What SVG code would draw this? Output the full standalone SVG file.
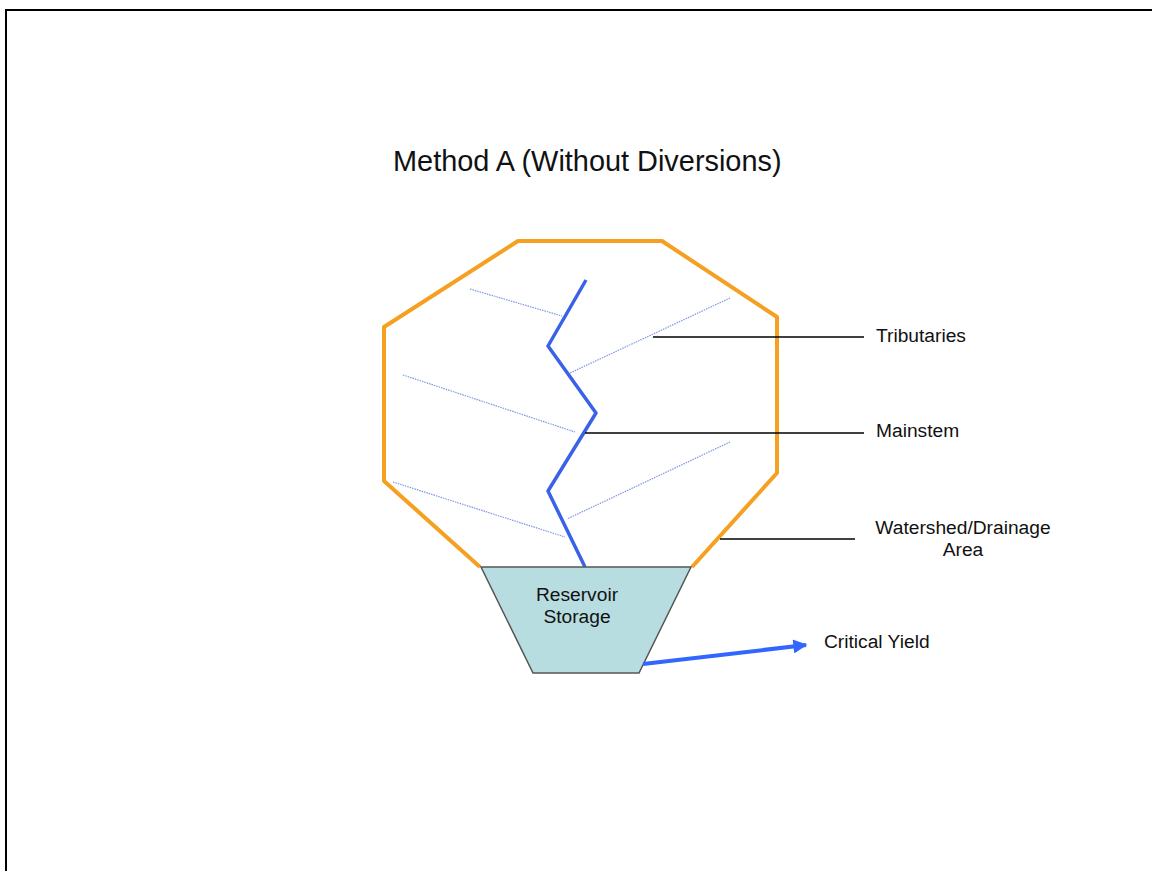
<svg xmlns="http://www.w3.org/2000/svg" width="1152" height="871" viewBox="0 0 1152 871">
<style>
text{font-family:"Liberation Sans",Arial,sans-serif;fill:#111}
.lbl{font-size:19.2px}
.leader{stroke:#000;stroke-width:1.3;fill:none}
.trib{stroke:#7f95e0;stroke-width:1.2;stroke-dasharray:1.5 1;fill:none}
</style>
<defs>
<marker id="ah" viewBox="0 0 10 10" refX="9" refY="5" markerWidth="4" markerHeight="3.5" orient="auto" markerUnits="strokeWidth">
<path d="M0,0 L10,5 L0,10 z" fill="#3366ff"/>
</marker>
</defs>
<rect x="0" y="0" width="1152" height="871" fill="#fff"/>
<path d="M6,871 V10 H1152" stroke="#000" stroke-width="2" fill="none"/>
<text id="title" x="393" y="171" style="font-size:28.9px">Method A (Without Diversions)</text>
<g id="watershed">
<polyline points="480,567 384,481 384,327 518,241 662,241 777,317 777,473 692,567" fill="none" stroke="#f5a020" stroke-width="4" stroke-linejoin="round"/>
</g>
<g id="tributaries">
<line class="trib" x1="470" y1="289" x2="562" y2="316"/>
<line class="trib" x1="730" y1="298" x2="570" y2="373"/>
<line class="trib" x1="403" y1="375" x2="575" y2="432"/>
<line class="trib" x1="730" y1="442" x2="567" y2="519"/>
<line class="trib" x1="393" y1="482" x2="565" y2="537"/>
</g>
<g id="mainstem">
<polyline points="586,280 548,346 596,413 548,491 585,567" fill="none" stroke="#3a62e8" stroke-width="3.5" stroke-linejoin="round"/>
</g>
<g id="reservoir">
<polygon points="481,567 691,567 639,673 533,673" fill="#b8dde0" stroke="#555" stroke-width="1.5"/>
<text class="lbl" x="577" y="601" text-anchor="middle">Reservoir</text>
<text class="lbl" x="577" y="623" text-anchor="middle">Storage</text>
</g>
<g id="connectors">
<line class="leader" x1="653" y1="337" x2="864" y2="337"/>
<line class="leader" x1="585" y1="433" x2="864" y2="433"/>
<line class="leader" x1="720" y1="539" x2="855" y2="539"/>
<line x1="643" y1="664" x2="806" y2="645" stroke="#3366ff" stroke-width="4" marker-end="url(#ah)"/>
</g>
<g id="labels">
<text class="lbl" x="876" y="342">Tributaries</text>
<text class="lbl" x="876" y="437">Mainstem</text>
<text class="lbl" x="963" y="534" text-anchor="middle">Watershed/Drainage</text>
<text class="lbl" x="963" y="556" text-anchor="middle">Area</text>
<text class="lbl" x="824" y="648">Critical Yield</text>
</g>
</svg>
